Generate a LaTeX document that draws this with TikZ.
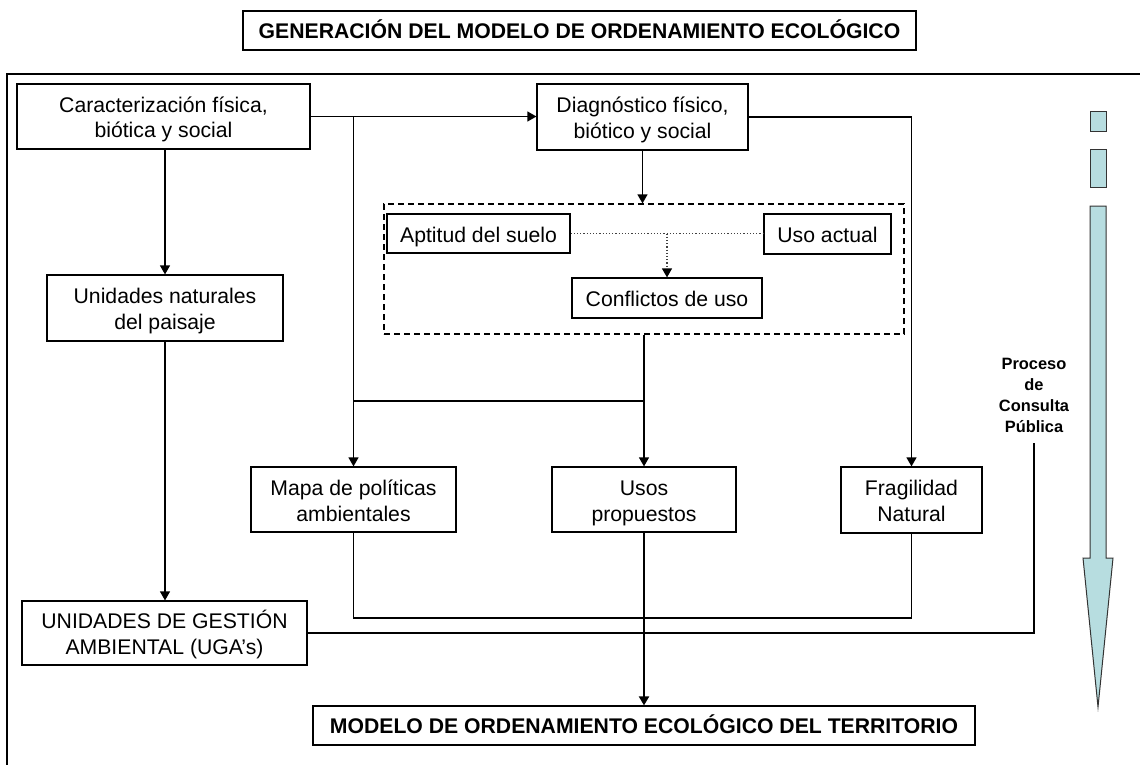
\documentclass[tikz,border=0pt]{standalone}
\usepackage{fontspec}
\setmainfont{Liberation Sans}
\usetikzlibrary{arrows.meta}
\definecolor{flowblue}{RGB}{183,221,224}
\newcommand\cajastrut{\rule[-2.25pt]{0pt}{13pt}}
\newcommand\dos[2]{\cajastrut#1\\\cajastrut#2}

\begin{document}
\begin{tikzpicture}[x=0.5pt, y=-0.5pt, >={Triangle[length=4.5pt,width=5pt]}, line width=0.6pt,
    box/.style 2 args={draw, align=center, inner sep=0pt, minimum width=#1*0.5pt,
      minimum height=#2*0.5pt, font=\fontsize{10.6}{13}\selectfont,
      execute at begin node=\cajastrut},
    titlefont/.style={font=\bfseries\fontsize{10.6}{13}\selectfont, execute at begin node={},
      text height=7.6pt, text depth=0pt},
    punteado/.style={densely dotted, draw=black!75},
    consulta/.style={align=center, inner sep=5pt, font=\bfseries\fontsize{8.2}{10.5}\selectfont},
    flecha/.style={fill=flowblue, draw=black!80, line width=0.5pt}]
  \useasboundingbox (0,0) rectangle (1140,765);

  \node[box={673}{39}, titlefont] (titulo) at (579.5,30.5) {GENERACIÓN DEL MODELO DE ORDENAMIENTO ECOLÓGICO};
  \draw (1140,74) -- (7,74) -- (7,765);

  \node[box={293}{65}] (caract) at (163.5,116.5) {\dos{Caracterización física,}{biótica y social}};
  \node[box={211}{66}] (diag) at (642.5,117) {\dos{Diagnóstico físico,}{biótico y social}};
  \node[box={236}{66}] (unidades) at (165,308) {\dos{Unidades naturales}{del paisaje}};
  \node[box={520}{130}, dash pattern=on 3pt off 2pt] (zona) at (644,269) {};
  \node[box={183}{39}] (aptitud) at (478.5,233.5) {Aptitud del suelo};
  \node[box={127}{40}] (uso) at (827.5,234) {Uso actual};
  \node[box={190}{40}] (conflictos) at (667,298) {Conflictos de uso};
  \node[box={205}{65}] (mapa) at (353.5,499.5) {\dos{Mapa de políticas}{ambientales}};
  \node[box={184}{65}] (usos) at (644,499.5) {\dos{Usos}{propuestos}};
  \node[box={141}{66}] (fragil) at (911.5,500) {\dos{Fragilidad}{Natural}};
  \node[box={285}{64}] (uga) at (164.5,633) {\dos{UNIDADES DE GESTIÓN}{AMBIENTAL (UGA’s)}};
  \node[box={662}{39}, titlefont] (modelo) at (644,725.5) {MODELO DE ORDENAMIENTO ECOLÓGICO DEL TERRITORIO};
  \node[consulta, anchor=south] (proceso) at (1034,443) {Proceso\\de\\Consulta\\Pública};

  % conexiones
  \draw[->] (caract.east) -- (caract.east -| diag.west);
  \draw[->] (caract.east -| mapa.north) -- (mapa.north);
  \draw[->] (diag.east) -| (fragil.north);
  \draw[->] (diag.south) -- (diag.south |- zona.north);
  \draw[punteado] (aptitud.east) -- (aptitud.east -| uso.west);
  \draw[punteado, -{Triangle[length=4.5pt,width=5pt,color=black]}] (aptitud.east -| conflictos.north) -- (conflictos.north);
  \draw[->] (unidades.north |- caract.south) -- (unidades.north);
  \draw[->] (unidades.south) -- (unidades.south |- uga.north);
  \draw[->] (zona.south) -- (usos.north);
  \coordinate (reparto) at (644,401);
  \draw (reparto) -- (reparto -| mapa.north);
  \coordinate (union) at (644,618);
  \draw (mapa.south) |- (union) -| (fragil.south);
  \draw (usos.south) -- (union);
  \draw[->, line width=1pt] (union) -- (modelo.north);
  \draw (uga.east) -| (proceso.south);

  % flecha del proceso
  \filldraw[flecha] (1090,112) rectangle (1106,132);
  \filldraw[flecha] (1090,149) rectangle (1106,187);
  \filldraw[flecha] (1090,206) -- (1106,206) -- (1106,558) -- (1113,558) -- (1098,707)
    -- (1083,558) -- (1090,558) -- cycle;
\end{tikzpicture}
\end{document}
